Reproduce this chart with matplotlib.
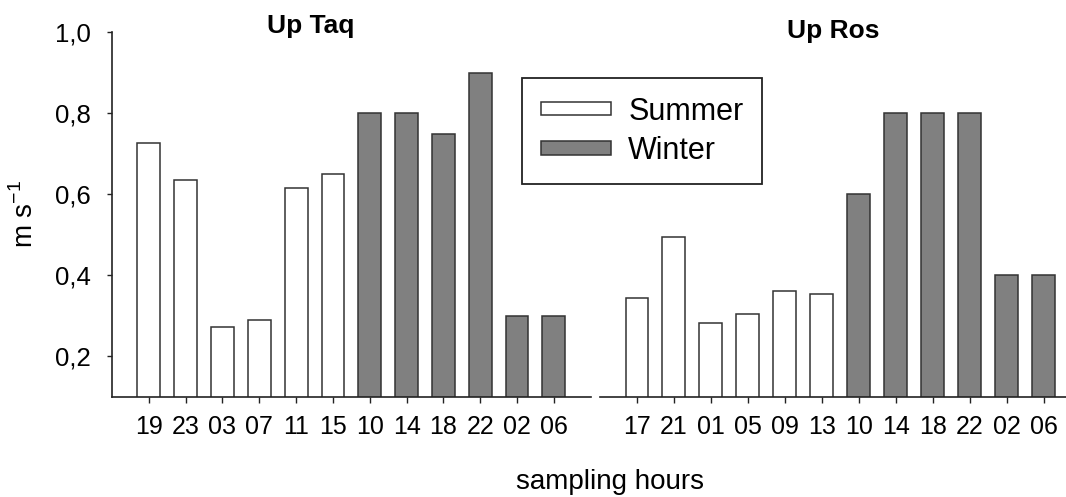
import matplotlib
matplotlib.use("Agg")
import matplotlib.pyplot as plt
from matplotlib.patches import Patch

# Mean current speed (m s-1) by sampling hour at the two upstream sites
taq_hours = ["19", "23", "03", "07", "11", "15", "10", "14", "18", "22", "02", "06"]
taq_speed = [0.727, 0.635, 0.271, 0.289, 0.616, 0.651, 0.80, 0.80, 0.75, 0.90, 0.30, 0.30]

ros_hours = ["17", "21", "01", "05", "09", "13", "10", "14", "18", "22", "02", "06"]
ros_speed = [0.345, 0.495, 0.283, 0.304, 0.362, 0.354, 0.60, 0.80, 0.80, 0.80, 0.40, 0.40]

seasons = ["Summer"] * 6 + ["Winter"] * 6
season_fill = {"Summer": "white", "Winter": "#808080"}
y_ticks = [0.2, 0.4, 0.6, 0.8, 1.0]

plt.rcParams["font.family"] = ["Liberation Sans", "DejaVu Sans"]

W, H = 1066, 497
fig = plt.figure(figsize=(W / 100, H / 100), dpi=100)

edge = "#333333"
spine_c = "#222222"


def px_axes(x0, x1, ytop, ybot):
    return fig.add_axes([x0 / W, 1 - ybot / H, (x1 - x0) / W, (ybot - ytop) / H])


ax1 = px_axes(112, 590.7, 32.3, 396.7)
ax2 = px_axes(600, 1080.6, 32.3, 396.7)

for ax, hours, speed in [(ax1, taq_hours, taq_speed), (ax2, ros_hours, ros_speed)]:
    x = list(range(len(hours)))
    ax.bar(x, speed, width=0.62,
           color=[season_fill[s] for s in seasons],
           edgecolor=edge, linewidth=1.1, zorder=2)
    ax.set_xlim(-1, 12)
    ax.set_ylim(0.1, 1.0)
    ax.set_xticks(x)
    ax.set_xticklabels(hours)
    ax.tick_params(axis="x", direction="out", length=4, width=1, color=spine_c,
                   pad=9, labelsize=18)
    for side in ("top", "right"):
        ax.spines[side].set_visible(False)
    ax.spines["bottom"].set_linewidth(1.2)
    ax.spines["bottom"].set_color(spine_c)
    ax.patch.set_alpha(0)

ax1.set_yticks(y_ticks)
ax1.set_yticklabels([f"{v:.1f}".replace(".", ",") for v in y_ticks])
ax1.tick_params(axis="y", direction="out", length=3.5, width=1, color=spine_c,
                pad=11.5, labelsize=18.5)
ax1.spines["left"].set_linewidth(1.2)
ax1.spines["left"].set_color(spine_c)

ax2.spines["left"].set_visible(False)
ax2.set_yticks([])

# Site titles
fig.text(311 / W, 1 - 33 / H, "Up Taq", ha="center", va="baseline",
         fontsize=19, fontweight="bold")
fig.text(833 / W, 1 - 38 / H, "Up Ros", ha="center", va="baseline",
         fontsize=19, fontweight="bold")

# Axis labels
fig.text(610 / W, 1 - 489 / H, "sampling hours", ha="center", va="baseline",
         fontsize=20)
fig.text(25 / W, 1 - 214 / H, r"m s$^{\mathregular{-1}}$", ha="center", va="center",
         rotation=90, fontsize=20)

# Season legend
handles = [Patch(facecolor=season_fill[s], edgecolor=edge, linewidth=1.1)
           for s in ["Summer", "Winter"]]
leg = fig.legend(handles, ["Summer", "Winter"], loc="upper left",
                 bbox_to_anchor=(522.3 / W, 1 - 78.3 / H),
                 bbox_transform=fig.transFigure, borderaxespad=0,
                 fontsize=22, handlelength=2.3, handleheight=0.3,
                 handletextpad=0.57, borderpad=0.6, labelspacing=0.31,
                 fancybox=False, framealpha=1, edgecolor="#222222")
leg.get_frame().set_linewidth(1.3)

fig.savefig("out.png", dpi=100)
